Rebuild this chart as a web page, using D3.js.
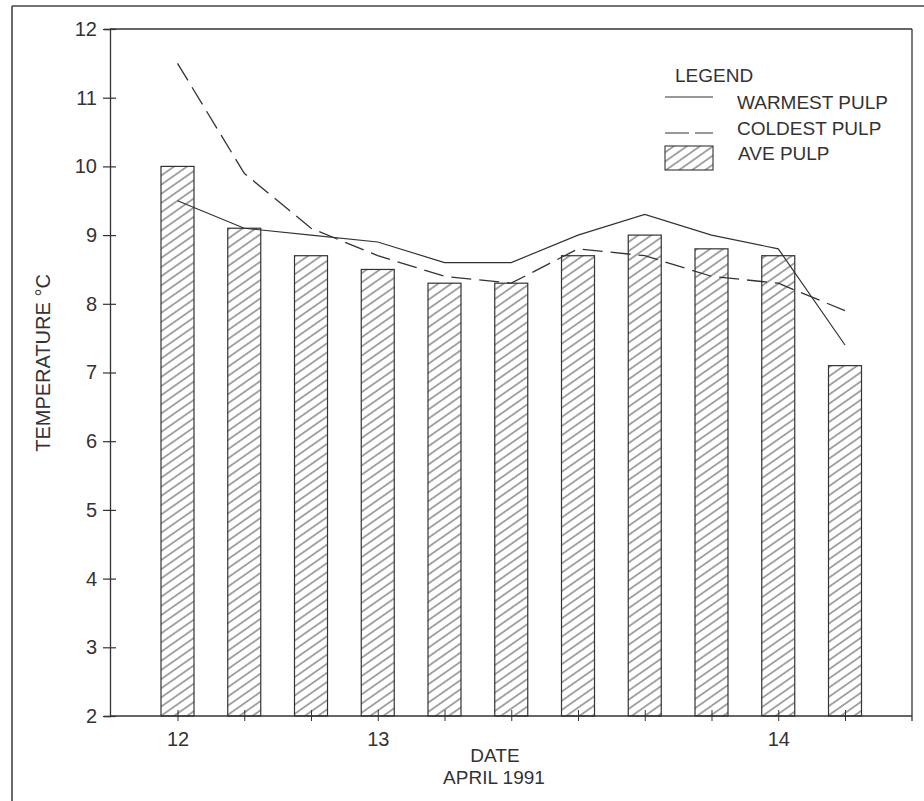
<!DOCTYPE html>
<html><head><meta charset="utf-8">
<script src="https://cdn.jsdelivr.net/npm/d3@7/dist/d3.min.js"></script>
<style>body{margin:0;background:#fff}svg{display:block}text{font-family:"Liberation Sans",Arial,Helvetica,sans-serif;fill:#333}</style>
</head><body>
<svg id="c" width="924" height="801"></svg>
<script>
const categories = [0,1,2,3,4,5,6,7,8,9,10];
const dateLabels = ["12","","","13","","","","","","14",""];
const avePulp     = [10.0, 9.1, 8.7, 8.5, 8.3, 8.3, 8.7, 9.0, 8.8, 8.7, 7.1];
const warmestPulp = [9.5, 9.1, 9.0, 8.9, 8.6, 8.6, 9.0, 9.3, 9.0, 8.8, 7.4];
const coldestPulp = [11.5, 9.9, 9.1, 8.7, 8.4, 8.3, 8.8, 8.7, 8.4, 8.3, 7.9];
const yTicks = [2,3,4,5,6,7,8,9,10,11,12];

const svg = d3.select("#c");
const ink = "#333";
const L = 110, R = 912, T = 29, B = 716;
const y = d3.scaleLinear().domain([2,12]).range([B,T]);
const x = d3.scalePoint().domain(categories).range([177.5, 845]);
const bw = 33;
const fs = 19;

// hatch pattern
const defs = svg.append("defs");
const pat = defs.append("pattern").attr("id","hatch").attr("patternUnits","userSpaceOnUse")
  .attr("width",8).attr("height",7.5).attr("patternTransform","rotate(-35)");
pat.append("line").attr("x1",-1).attr("x2",9).attr("y1",3.75).attr("y2",3.75)
  .attr("stroke",ink).attr("stroke-width",0.9);

// outer page border
svg.append("line").attr("x1",12).attr("x2",924).attr("y1",6).attr("y2",6).attr("stroke","#444").attr("stroke-width",1.6);
svg.append("line").attr("x1",12).attr("x2",12).attr("y1",6).attr("y2",801).attr("stroke","#444").attr("stroke-width",1.6);

// frame top and right
svg.append("line").attr("x1",L).attr("x2",R).attr("y1",T).attr("y2",T).attr("stroke",ink).attr("stroke-width",1.3);
svg.append("line").attr("x1",R).attr("x2",R).attr("y1",T).attr("y2",B+5).attr("stroke",ink).attr("stroke-width",1.3);

// bars
svg.append("g").selectAll("rect").data(categories).join("rect")
  .attr("x",d=>x(d)-bw/2).attr("width",bw)
  .attr("y",d=>y(avePulp[d])).attr("height",d=>B-y(avePulp[d]))
  .attr("fill","url(#hatch)").attr("stroke",ink).attr("stroke-width",1.2);

// y axis
const yAxis = d3.axisLeft(y).tickValues(yTicks).tickFormat(d3.format("d")).tickSize(6).tickPadding(7);
const gy = svg.append("g").attr("transform",`translate(${L},0)`).call(yAxis);
gy.select(".domain").attr("stroke",ink).attr("stroke-width",1.3);
gy.selectAll(".tick line").attr("stroke",ink).attr("stroke-width",1.2).attr("x1",6).attr("x2",-7);
gy.selectAll(".tick text").attr("font-size",fs+1).attr("fill",ink).attr("font-family","Liberation Sans, Arial, sans-serif");

// x axis
const xAxis = d3.axisBottom(x).tickFormat(d=>dateLabels[d]).tickSize(5).tickPadding(11);
const gx = svg.append("g").attr("transform",`translate(0,${B})`).call(xAxis);
gx.select(".domain").remove();
gx.append("line").attr("x1",L).attr("x2",R).attr("y1",0).attr("y2",0).attr("stroke",ink).attr("stroke-width",1.3);
gx.selectAll(".tick line").attr("stroke",ink).attr("stroke-width",1).attr("y1",-6).attr("y2",5);
gx.selectAll(".tick text").attr("font-size",fs+1).attr("fill",ink).attr("font-family","Liberation Sans, Arial, sans-serif");

// lines
const line = d3.line().x((d,i)=>x(categories[i])).y(d=>y(d));
svg.append("path").datum(warmestPulp).attr("d",line).attr("fill","none").attr("stroke",ink).attr("stroke-width",1.2);
svg.append("path").datum(coldestPulp).attr("d",line).attr("fill","none").attr("stroke",ink).attr("stroke-width",1.3).attr("stroke-dasharray","20,8");

// axis titles
svg.append("text").attr("transform","translate(50,363) rotate(-90)").attr("text-anchor","middle")
  .attr("font-size",fs+1).text("TEMPERATURE °C");
svg.append("text").attr("x",495).attr("y",762).attr("text-anchor","middle").attr("font-size",fs).text("DATE");
svg.append("text").attr("x",494).attr("y",784).attr("text-anchor","middle").attr("font-size",fs).text("APRIL 1991");

// legend
const lg = svg.append("g");
lg.append("text").attr("x",675).attr("y",82).attr("font-size",fs).text("LEGEND");
lg.append("line").attr("x1",665).attr("x2",713).attr("y1",97).attr("y2",97).attr("stroke",ink).attr("stroke-width",1);
lg.append("text").attr("x",737).attr("y",108.5).attr("font-size",fs).text("WARMEST PULP");
lg.append("line").attr("x1",665).attr("x2",713).attr("y1",133).attr("y2",133).attr("stroke",ink).attr("stroke-width",1).attr("stroke-dasharray","24,6");
lg.append("text").attr("x",737).attr("y",135).attr("font-size",fs).text("COLDEST PULP");
lg.append("rect").attr("x",665).attr("y",146).attr("width",48).attr("height",24)
  .attr("fill","url(#hatch)").attr("stroke",ink).attr("stroke-width",1.1);
lg.append("text").attr("x",738).attr("y",160).attr("font-size",fs).text("AVE PULP");
</script>
</body></html>
